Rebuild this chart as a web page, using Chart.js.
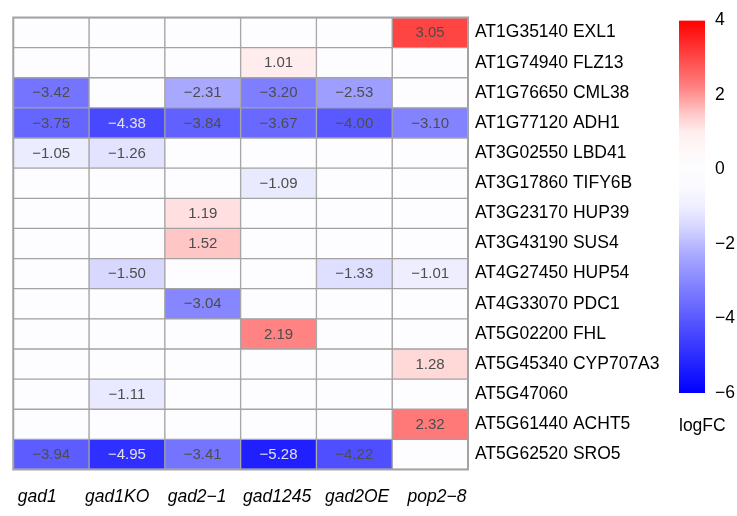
<!DOCTYPE html>
<html>
<head>
<meta charset="utf-8">
<script src="https://cdn.jsdelivr.net/npm/chart.js@4/dist/chart.umd.min.js"></script>
<style>
  html, body { margin: 0; padding: 0; background: #ffffff; }
  #wrap { position: relative; width: 737px; height: 516px; }
  #heat { position: absolute; left: 0; top: 0; }
  #scale { position: absolute; left: 660px; top: 0; }
  #scaleTitle { position: absolute; left: 679px; top: 415px; font: 17.5px "Liberation Sans", Arial, sans-serif; color: #000; }
</style>
</head>
<body>
<div id="wrap">
  <canvas id="heat" width="737" height="516"></canvas>
  <canvas id="scale" width="77" height="420"></canvas>
  <div id="scaleTitle">logFC</div>
</div>
<script>
// Genes (rows, top to bottom)
const genes = [
  'AT1G35140 EXL1', 'AT1G74940 FLZ13', 'AT1G76650 CML38', 'AT1G77120 ADH1',
  'AT3G02550 LBD41', 'AT3G17860 TIFY6B', 'AT3G23170 HUP39', 'AT3G43190 SUS4',
  'AT4G27450 HUP54', 'AT4G33070 PDC1', 'AT5G02200 FHL', 'AT5G45340 CYP707A3',
  'AT5G47060', 'AT5G61440 ACHT5', 'AT5G62520 SRO5'
];

// Lines (columns, left to right)
const lines = ['gad1', 'gad1KO', 'gad2\u22121', 'gad1245', 'gad2OE', 'pop2\u22128'];

// logFC per line, one entry per gene (null = not significant)
const gad1    = [null, null, -3.42, -3.75, -1.05, null, null, null, null, null, null, null, null, null, -3.94];
const gad1KO  = [null, null, null, -4.38, -1.26, null, null, null, -1.50, null, null, null, -1.11, null, -4.95];
const gad2_1  = [null, null, -2.31, -3.84, null, null, 1.19, 1.52, null, -3.04, null, null, null, null, -3.41];
const gad1245 = [null, 1.01, -3.20, -3.67, null, -1.09, null, null, null, null, 2.19, null, null, null, -5.28];
const gad2OE  = [null, null, -2.53, -4.00, null, null, null, null, -1.33, null, null, null, null, null, -4.22];
const pop2_8  = [3.05, null, null, -3.10, null, null, null, null, -1.01, null, null, 1.28, null, 2.32, null];

const logFC = [gad1, gad1KO, gad2_1, gad1245, gad2OE, pop2_8];

// Colour key range and ticks
const keyMin = -6;
const keyMax = 4;
const keyTicks = [-6, -4, -2, 0, 2, 4];

// Diverging blue - white - red palette: [logFC, [r, g, b]]
const palette = [
  [-6.0, [0, 0, 255]],
  [-5.28, [32, 32, 255]],
  [-4.38, [72, 72, 255]],
  [-3.42, [116, 116, 255]],
  [-2.31, [168, 168, 255]],
  [-1.5, [216, 216, 255]],
  [-1.0, [238, 238, 255]],
  [-0.5, [249, 249, 255]],
  [0.0, [253, 253, 255]],
  [0.5, [255, 248, 248]],
  [1.0, [255, 238, 238]],
  [1.52, [255, 198, 198]],
  [2.2, [255, 130, 130]],
  [3.05, [255, 68, 68]],
  [4.0, [255, 0, 0]]
];

function paletteRGB(v) {
  if (v <= palette[0][0]) return palette[0][1];
  for (let i = 1; i < palette.length; i++) {
    const [v1, c1] = palette[i];
    const [v0, c0] = palette[i - 1];
    if (v <= v1) {
      const t = (v - v0) / (v1 - v0);
      return c0.map((c, k) => Math.round(c + (c1[k] - c) * t));
    }
  }
  return palette[palette.length - 1][1];
}
function rgbStr(c) { return 'rgb(' + c[0] + ',' + c[1] + ',' + c[2] + ')'; }
function cellColor(v) { return rgbStr(paletteRGB(v == null ? 0 : v)); }
function fmt(v) { return v.toFixed(2).replace('-', '\u2212'); }

const FONT = '"Liberation Sans", Arial, sans-serif';
const GRID = '#a3a3a3';

// Writes each logFC into its cell and frames the grid
const cellText = {
  id: 'cellText',
  afterDatasetsDraw(chart) {
    const ctx = chart.ctx;
    ctx.save();
    ctx.font = '15px ' + FONT;
    ctx.textAlign = 'center';
    ctx.textBaseline = 'middle';
    chart.data.datasets.forEach((ds, di) => {
      const meta = chart.getDatasetMeta(di);
      meta.data.forEach((bar, i) => {
        const v = ds.values[i];
        if (v == null) return;
        const p = bar.getProps(['x', 'y', 'base'], true);
        const dark = paletteRGB(v)[0] < 76;
        ctx.fillStyle = dark ? '#e2e2e2' : '#4d4d4d';
        ctx.fillText(fmt(v), (p.x + p.base) / 2, p.y + 0.5);
      });
    });
    const a = chart.chartArea;
    ctx.strokeStyle = GRID;
    ctx.lineWidth = 2;
    ctx.strokeRect(a.left, a.top, a.right - a.left, a.bottom - a.top);
    ctx.restore();
  }
};

new Chart(document.getElementById('heat'), {
  type: 'bar',
  data: {
    labels: genes,
    datasets: lines.map((name, c) => ({
      label: name,
      data: genes.map(() => [c, c + 1]),
      values: logFC[c],
      backgroundColor: logFC[c].map(cellColor),
      borderColor: GRID,
      borderWidth: 1,
      borderSkipped: false,
      grouped: false,
      categoryPercentage: 1,
      barPercentage: 1
    }))
  },
  options: {
    indexAxis: 'y',
    responsive: false,
    animation: false,
    layout: { padding: { left: 12, top: 13 } },
    plugins: { legend: { display: false }, tooltip: { enabled: false } },
    scales: {
      x: { type: 'linear', min: 0, max: lines.length, display: false },
      names: {
        type: 'linear',
        axis: 'x',
        position: 'bottom',
        min: -0.299,
        max: 5.387,
        grid: { display: false, drawTicks: false },
        border: { display: false },
        afterBuildTicks: s => { s.ticks = lines.map((_, i) => ({ value: i })); },
        afterFit: s => { s.height = 46.5; },
        ticks: {
          callback: v => lines[v],
          font: { family: FONT, size: 17.5, style: 'italic' },
          color: '#000',
          padding: 17,
          maxRotation: 0,
          autoSkip: false
        }
      },
      y: {
        position: 'right',
        grid: { display: false, drawTicks: false },
        border: { display: false },
        afterFit: s => { s.width = 269; },
        ticks: {
          font: { family: FONT, size: 17.5 },
          color: '#000',
          padding: 7,
          autoSkip: false
        }
      }
    }
  },
  plugins: [cellText]
});

// Colour key
new Chart(document.getElementById('scale'), {
  type: 'bar',
  data: {
    labels: ['logFC'],
    datasets: [{
      data: [[keyMin, keyMax]],
      borderWidth: 0,
      categoryPercentage: 1,
      barPercentage: 1,
      backgroundColor: c => {
        const chart = c.chart;
        if (!chart.chartArea) return 'rgba(0,0,0,0)';
        const ys = chart.scales.y;
        const top = ys.getPixelForValue(keyMax);
        const bot = ys.getPixelForValue(keyMin);
        const g = chart.ctx.createLinearGradient(0, top, 0, bot);
        palette.forEach(([v, col]) => {
          g.addColorStop((ys.getPixelForValue(v) - top) / (bot - top), rgbStr(col));
        });
        return g;
      }
    }]
  },
  options: {
    responsive: false,
    animation: false,
    layout: { padding: { left: 19, top: 13, bottom: 27 } },
    plugins: { legend: { display: false }, tooltip: { enabled: false } },
    scales: {
      x: { display: false },
      y: {
        min: keyMin,
        max: keyMax,
        position: 'right',
        grid: { display: false, drawTicks: false },
        border: { display: false },
        afterBuildTicks: s => { s.ticks = keyTicks.map(v => ({ value: v })); },
        afterFit: s => { s.width = 32; },
        ticks: {
          callback: v => String(v).replace('-', '\u2212'),
          font: { family: FONT, size: 17.5 },
          color: '#000',
          padding: 10
        }
      }
    }
  }
});
</script>
</body>
</html>
